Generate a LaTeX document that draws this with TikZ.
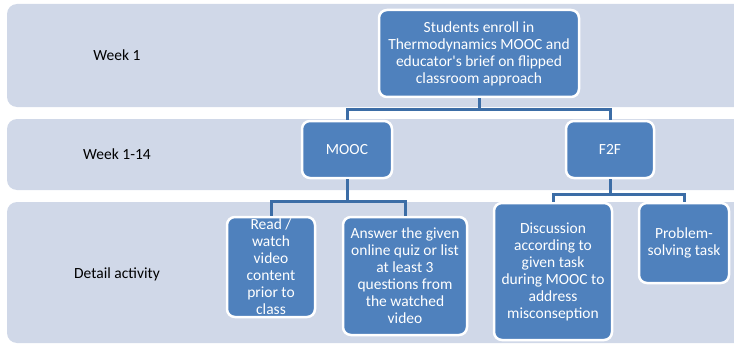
\documentclass[tikz,border=0pt]{standalone}
\usepackage{fontspec}
\setmainfont{Carlito}
\usetikzlibrary{positioning}
\definecolor{bandfill}{HTML}{D0D8E8}
\definecolor{boxfill}{HTML}{4F81BD}
\definecolor{linkblue}{HTML}{3C6DA6}
\tikzstyle{band} = [fill=bandfill,draw=none,rounded corners=10pt]
\tikzstyle{lbl} = [text=black,align=center]
\tikzstyle{task} = [fill=boxfill,draw=white,line width=2.5pt,rounded corners=8pt,text=white,align=center,inner sep=0pt]
\tikzstyle{link} = [draw=linkblue,line width=3pt]

\begin{document}
\begin{tikzpicture}[x=1pt, y=-1pt, font=\fontsize{15.5}{17}\selectfont]
        \useasboundingbox (0,0) rectangle (734,345);
        \clip (0,0) rectangle (734,345);

        % the three rows
        \path[band] (7,4) rectangle (760,107);
        \path[band] (7,119) rectangle (760,190);
        \path[band] (7,202) rectangle (760,343);

        \node (W1) [lbl] at (117,55) {Week 1};
        \node (W14) [lbl] at (117,154) {Week 1-14};
        \node (DA) [lbl] at (117,274) {Detail activity};

        % boxes
        \node (S) [task, minimum width=200pt, minimum height=87pt] at (479,53.5) {Students enroll in\\Thermodynamics MOOC and\\educator\textquotesingle s brief on flipped\\classroom approach};
        \node (M) [task, minimum width=90pt, minimum height=57pt] at (347,149.5) {MOOC};
        \node (F) [task, minimum width=88pt, minimum height=57pt] at (610,149.5) {F2F};
        \node (R) [task, minimum width=88pt, minimum height=100pt] at (271,267) {Read /\\watch\\video\\content\\prior to\\class};
        \node (A) [task, minimum width=124pt, minimum height=118pt] at (405,276) {Answer the given\\online quiz or list\\at least 3\\questions from\\the watched\\video};
        \node (D) [task, minimum width=118pt, minimum height=137pt] at (553,271.5) {Discussion\\according to\\given task\\during MOOC to\\address\\misconseption};
        \node (P) [task, minimum width=90pt, minimum height=80pt] at (684,243) {Problem-\\solving task};

        \draw[link] (S.south) -- ++(0,11) -| (M.north);
        \draw[link] (S.south) -- ++(0,11) -| (F.north);
        \draw[link] (M.south) -- ++(0,22) -| (R.north);
        \draw[link] (M.south) -- ++(0,22) -| (A.north);
        %\draw[link] (F.south) -- ++(0,15) -| (D.north);
        \draw[link] (F.south) -- ++(0,15) -| (D.north);
        \draw[link] (F.south) -- ++(0,15) -| (P.north);

    \end{tikzpicture}
\end{document}
